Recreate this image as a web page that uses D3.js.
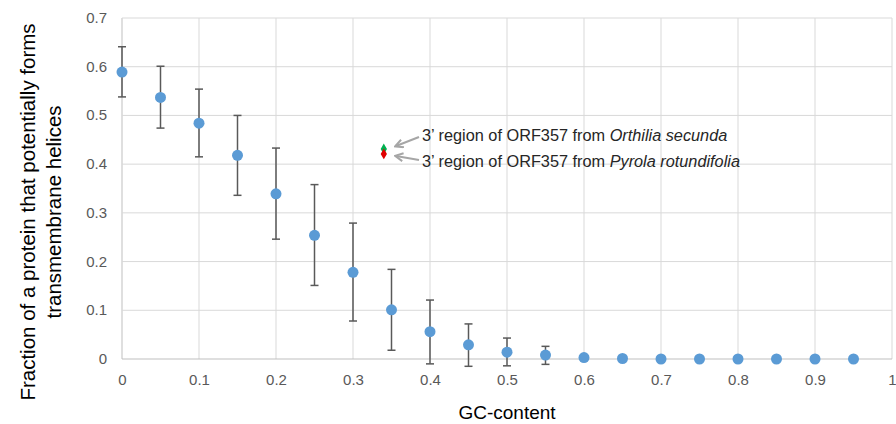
<!DOCTYPE html>
<html>
<head>
<meta charset="utf-8">
<script src="https://cdn.jsdelivr.net/npm/d3@7"></script>
<style>
  body { margin: 0; background: #fff; }
  svg { font-family: "Liberation Sans", Arial, sans-serif; }
  .tick text { fill: #595959; font-size: 15px; }
</style>
</head>
<body>
<svg width="896" height="424"></svg>
<script>
// GC-content bins and mean fraction with error bar ends
var gc = [0, 0.05, 0.1, 0.15, 0.2, 0.25, 0.3, 0.35, 0.4, 0.45, 0.5, 0.55, 0.6, 0.65, 0.7, 0.75, 0.8, 0.85, 0.9, 0.95];
var fraction = [0.589, 0.537, 0.484, 0.418, 0.339, 0.254, 0.178, 0.101, 0.056, 0.029, 0.014, 0.008, 0.003, 0.001, 0, 0, 0, 0, 0, 0];
var errLow  = [0.538, 0.474, 0.415, 0.336, 0.246, 0.151, 0.078, 0.018, -0.010, -0.015, -0.014, -0.011, -0.003, -0.001, 0, 0, 0, 0, 0, 0];
var errHigh = [0.641, 0.601, 0.554, 0.500, 0.433, 0.358, 0.279, 0.184, 0.121, 0.072, 0.043, 0.026, 0.008, 0.003, 0, 0, 0, 0, 0, 0];

var xTicks = [0, 0.1, 0.2, 0.3, 0.4, 0.5, 0.6, 0.7, 0.8, 0.9, 1];
var yTicks = [0, 0.1, 0.2, 0.3, 0.4, 0.5, 0.6, 0.7];

// ORF357 3' regions
var special = [
  { gc: 0.34, frac: 0.431, color: '#00b050', pre: "3\u2019 region of ORF357 from ", species: 'Orthilia secunda' },
  { gc: 0.34, frac: 0.421, color: '#e00000', pre: "3\u2019 region of ORF357 from ", species: 'Pyrola rotundifolia' }
];

var margin = { top: 18, left: 122, bottom: 65, right: 4 };
var svg = d3.select('svg');
var width = 896, height = 424;

var x = d3.scaleLinear().domain([0, 1]).range([margin.left, width - margin.right]);
var y = d3.scaleLinear().domain([0, 0.7]).range([height - margin.bottom, margin.top]);

// grid
svg.append('g').selectAll('line').data(xTicks).enter().append('line')
  .attr('x1', d => x(d)).attr('x2', d => x(d))
  .attr('y1', y(0.7)).attr('y2', y(0))
  .attr('stroke', d => d === 0 ? '#bfbfbf' : '#d9d9d9').attr('stroke-width', 1);
svg.append('g').selectAll('line').data(yTicks).enter().append('line')
  .attr('x1', x(0)).attr('x2', x(1))
  .attr('y1', d => y(d)).attr('y2', d => y(d))
  .attr('stroke', d => d === 0 ? '#bfbfbf' : '#d9d9d9').attr('stroke-width', 1);

// axes (labels only)
var xAxis = d3.axisBottom(x).tickValues(xTicks).tickSize(0).tickFormat(d3.format('~g'));
svg.append('g')
  .attr('transform', 'translate(0,' + y(0) + ')')
  .call(xAxis)
  .call(g => g.select('.domain').remove())
  .call(g => g.selectAll('.tick text').attr('dy', 23));

var yAxis = d3.axisLeft(y).tickValues(yTicks).tickSize(0).tickFormat(d3.format('~g'));
svg.append('g')
  .attr('transform', 'translate(' + x(0) + ',0)')
  .call(yAxis)
  .call(g => g.select('.domain').remove())
  .call(g => g.selectAll('.tick text').attr('dx', -12).attr('dy', '0.3em'));

// error bars
var pts = gc.map((d, i) => ({ gc: d, v: fraction[i], lo: errLow[i], hi: errHigh[i] }))
var eb = svg.append('g').selectAll('g').data(pts.filter(d => d.hi - d.lo > 0.002)).enter().append('g')
  .attr('stroke', '#595959').attr('stroke-width', 1.5);
eb.append('line').attr('x1', d => x(d.gc)).attr('x2', d => x(d.gc))
  .attr('y1', d => y(d.lo)).attr('y2', d => y(d.hi));
eb.append('line').attr('x1', d => x(d.gc) - 4).attr('x2', d => x(d.gc) + 4)
  .attr('y1', d => y(d.lo)).attr('y2', d => y(d.lo));
eb.append('line').attr('x1', d => x(d.gc) - 4).attr('x2', d => x(d.gc) + 4)
  .attr('y1', d => y(d.hi)).attr('y2', d => y(d.hi));

// points
svg.append('g').selectAll('circle').data(pts).enter().append('circle')
  .attr('cx', d => x(d.gc)).attr('cy', d => y(d.v)).attr('r', 5.5)
  .attr('fill', '#5b9bd5');

// ORF357 diamonds
svg.append('g').selectAll('path').data(special).enter().append('path')
  .attr('d', d3.symbol().type(d3.symbolDiamond).size(34))
  .attr('transform', d => 'translate(' + x(d.gc) + ',' + y(d.frac) + ')')
  .attr('fill', d => d.color);

// arrows
svg.append('defs').append('marker')
  .attr('id', 'arr').attr('viewBox', '0 0 10 10').attr('refX', 8).attr('refY', 5)
  .attr('markerWidth', 5).attr('markerHeight', 5).attr('orient', 'auto')
  .append('path').attr('d', 'M1,1 L9,5 L1,9').attr('fill', 'none')
  .attr('stroke', '#a6a6a6').attr('stroke-width', 2).attr('stroke-linejoin', 'miter');

var labelY = [141, 167];
var arrowFrom = [137, 160];
var arrowTo = [146, 156];
special.forEach(function(d, i) {
  svg.append('line')
    .attr('x1', 419).attr('y1', arrowFrom[i])
    .attr('x2', 396).attr('y2', arrowTo[i])
    .attr('stroke', '#a6a6a6').attr('stroke-width', 2)
    .attr('marker-end', 'url(#arr)');
  var t = svg.append('text').attr('x', 422).attr('y', labelY[i])
    .attr('font-size', 16.3).attr('fill', '#262626');
  t.append('tspan').text(d.pre);
  t.append('tspan').attr('font-style', 'italic').text(d.species);
});

// axis titles
svg.append('text')
  .attr('x', x(0.5)).attr('y', 419)
  .attr('text-anchor', 'middle').attr('font-size', 19).attr('fill', '#000')
  .text('GC-content');

var yt = svg.append('text')
  .attr('transform', 'translate(0,' + 212 + ') rotate(-90)')
  .attr('text-anchor', 'middle').attr('font-size', 20.5).attr('fill', '#000');
yt.append('tspan').attr('x', 0).attr('y', 35).text('Fraction of a protein that potentially forms');
yt.append('tspan').attr('x', 0).attr('y', 61).text('transmembrane helices');
</script>
</body>
</html>
